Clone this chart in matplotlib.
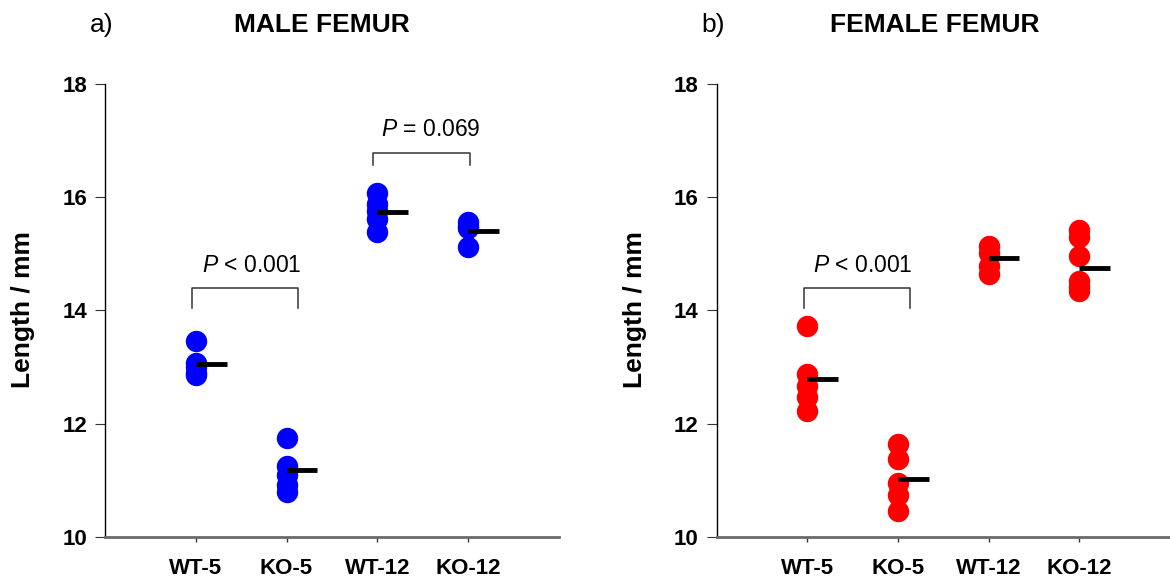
import numpy as np
import matplotlib
matplotlib.use("Agg")
import matplotlib.pyplot as plt

plt.rcParams['font.family'] = ['Liberation Sans', 'DejaVu Sans']
plt.rcParams['mathtext.fontset'] = 'custom'
plt.rcParams['mathtext.rm'] = 'Liberation Sans'
plt.rcParams['mathtext.it'] = 'Liberation Sans:italic'

# groups on the x axis
groups = ['WT-5', 'KO-5', 'WT-12', 'KO-12']

# femur length (mm)
male_wt5 = [13.46, 13.08, 13.00, 12.90, 12.86]
male_ko5 = [11.75, 11.25, 11.10, 10.92, 10.80]
male_wt12 = [16.07, 15.88, 15.75, 15.62, 15.38]
male_ko12 = [15.56, 15.50, 15.45, 15.12]
male_means = [13.05, 11.18, 15.74, 15.40]

female_wt5 = [13.73, 12.88, 12.66, 12.48, 12.23]
female_ko5 = [11.65, 11.37, 10.95, 10.74, 10.45]
female_wt12 = [15.13, 15.02, 14.79, 14.64]
female_ko12 = [15.42, 15.30, 14.96, 14.52, 14.42, 14.35]
female_means = [12.79, 11.02, 14.92, 14.75]

male = [male_wt5, male_ko5, male_wt12, male_ko12]
female = [female_wt5, female_ko5, female_wt12, female_ko12]

fig = plt.figure(figsize=(11.7, 5.83), dpi=100)
ax1 = fig.add_axes([0.0897, 0.079, 0.388, 0.777])
ax2 = fig.add_axes([0.6125, 0.079, 0.3875, 0.777])


def panel(ax, data, means, color):
    xs = np.arange(1, len(groups) + 1)
    for x, vals in zip(xs, data):
        ax.plot([x] * len(vals), vals, 'o', ms=14.4, color=color,
                mec=color, clip_on=False, zorder=3)
    for x, m in zip(xs, means):
        ax.plot([x, x + 0.34], [m, m], color='black', lw=3.5,
                solid_capstyle='butt', zorder=4)
    ax.set_xlim(0, 5)
    ax.set_ylim(10, 18)
    ax.set_xticks(xs)
    ax.set_xticklabels(groups, fontsize=16, fontweight='bold')
    ax.set_yticks([10, 12, 14, 16, 18])
    ax.set_yticklabels(['10', '12', '14', '16', '18'], fontsize=16,
                       fontweight='bold')
    ax.spines['top'].set_visible(False)
    ax.spines['right'].set_visible(False)
    ax.spines['left'].set_linewidth(1.0)
    ax.spines['bottom'].set_linewidth(2.0)
    ax.spines['bottom'].set_color('#6a6a6a')
    ax.tick_params(axis='y', length=7, width=0.8, pad=6, color='#333333')
    ax.tick_params(axis='x', length=3.5, width=1.0, pad=12, color='#333333')


def bracket(ax, x0, x1, ytop, ybot, label, tx, ty):
    ax.plot([x0, x0, x1, x1], [ybot, ytop, ytop, ybot], color='#333333',
            lw=1.1)
    ax.text(tx, ty, label, ha='center', va='center', fontsize=16.5)


panel(ax1, male, male_means, '#0000ff')
panel(ax2, female, female_means, '#ff0000')

bracket(ax1, 0.96, 2.13, 14.39, 14.04, r'$P$ < 0.001', 1.62, 14.8)
bracket(ax1, 2.95, 4.02, 16.78, 16.57, r'$P$ = 0.069', 3.59, 17.19)
bracket(ax2, 0.96, 2.13, 14.39, 14.04, r'$P$ < 0.001', 1.61, 14.8)

fig.text(23 / 1170, 1 - 310 / 583, 'Length / mm', rotation=90, ha='center',
         va='center', fontsize=19, fontweight='bold')
fig.text(635 / 1170, 1 - 310 / 583, 'Length / mm', rotation=90, ha='center',
         va='center', fontsize=19, fontweight='bold')

fig.text(102 / 1170, 1 - 25 / 583, 'a)', ha='center', va='center', fontsize=19)
fig.text(322 / 1170, 1 - 25 / 583, 'MALE FEMUR', ha='center', va='center',
         fontsize=19, fontweight='bold')
fig.text(713 / 1170, 1 - 25 / 583, 'b)', ha='center', va='center', fontsize=19)
fig.text(935 / 1170, 1 - 25 / 583, 'FEMALE FEMUR', ha='center', va='center',
         fontsize=19, fontweight='bold')

fig.savefig('out.png', dpi=100)
